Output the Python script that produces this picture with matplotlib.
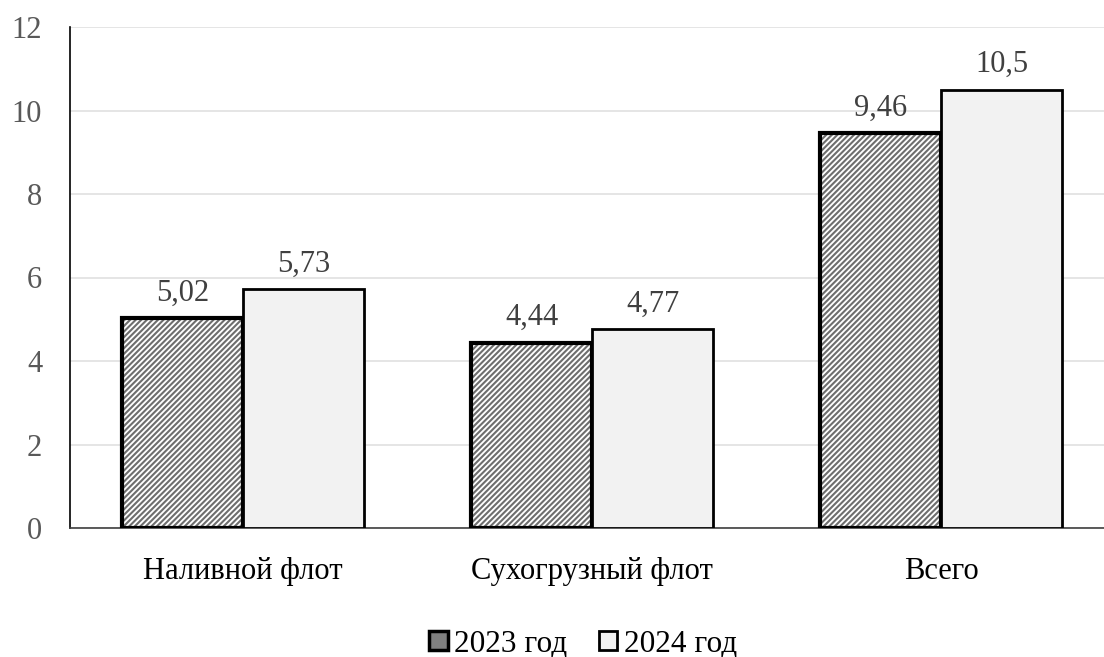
import matplotlib.pyplot as plt
import numpy as np
from matplotlib.patches import Patch

# ---- data ----
categories = ["Наливной флот", "Сухогрузный флот", "Всего"]
years = ["2023 год", "2024 год"]
vals_2023 = [5.02, 4.44, 9.46]
vals_2024 = [5.73, 4.77, 10.5]
labels_2023 = ["5,02", "4,44", "9,46"]
labels_2024 = ["5,73", "4,77", "10,5"]

plt.rcParams["font.family"] = ["Liberation Serif", "DejaVu Serif"]
plt.rcParams["hatch.linewidth"] = 1.5

fig = plt.figure(figsize=(11.04, 6.57), dpi=100)
ax = fig.add_axes([70 / 1104, 1 - 528 / 657, (1104 - 70) / 1104, (528 - 27) / 657])

x = np.arange(len(categories))
w = 0.347

# hatched fill for 2023, then black outline
ax.bar(x - w / 2, vals_2023, w, facecolor="white", edgecolor="#6e6e6e",
       hatch="//////", linewidth=0, zorder=2)
ax.bar(x - w / 2, vals_2023, w, facecolor="none", edgecolor="black",
       linewidth=3, zorder=3)
ax.bar(x + w / 2, vals_2024, w, facecolor="#f2f2f2", edgecolor="black",
       linewidth=2, zorder=3)

for xi, v, t in zip(x - w / 2, vals_2023, labels_2023):
    ax.text(xi, v + 0.25, t, ha="center", va="bottom", fontsize=22, color="#404040")
for xi, v, t in zip(x + w / 2, vals_2024, labels_2024):
    ax.text(xi, v + 0.25, t, ha="center", va="bottom", fontsize=22, color="#404040")

ax.set_ylim(0, 12)
ax.set_yticks(range(0, 13, 2))
ax.set_xlim(-0.496, 2.467)
ax.set_xticks(x)
ax.set_xticklabels(categories)
ax.tick_params(axis="both", length=0, labelsize=22, colors="#595959")
ax.tick_params(axis="x", pad=21, colors="black")
ax.tick_params(axis="y", pad=20)
ax.grid(axis="y", color="#e0e0e0", linewidth=1.2, zorder=0)
ax.set_axisbelow(True)
for s in ["top", "right"]:
    ax.spines[s].set_visible(False)
ax.spines["left"].set_color("black")
ax.spines["bottom"].set_color("#404040")
ax.spines["left"].set_linewidth(1.2)
ax.spines["bottom"].set_linewidth(1.2)

handles = [Patch(facecolor="#808080", edgecolor="black", linewidth=2.5),
           Patch(facecolor="#f2f2f2", edgecolor="black", linewidth=2)]
fig.legend(handles, years, loc="center", bbox_to_anchor=(583 / 1104, 1 - 644 / 657),
           ncol=2, frameon=False, fontsize=22.5, handlelength=0.6, handleheight=0.6,
           handletextpad=0.2, columnspacing=1.0, borderpad=0)

fig.savefig("out.png", dpi=100)
